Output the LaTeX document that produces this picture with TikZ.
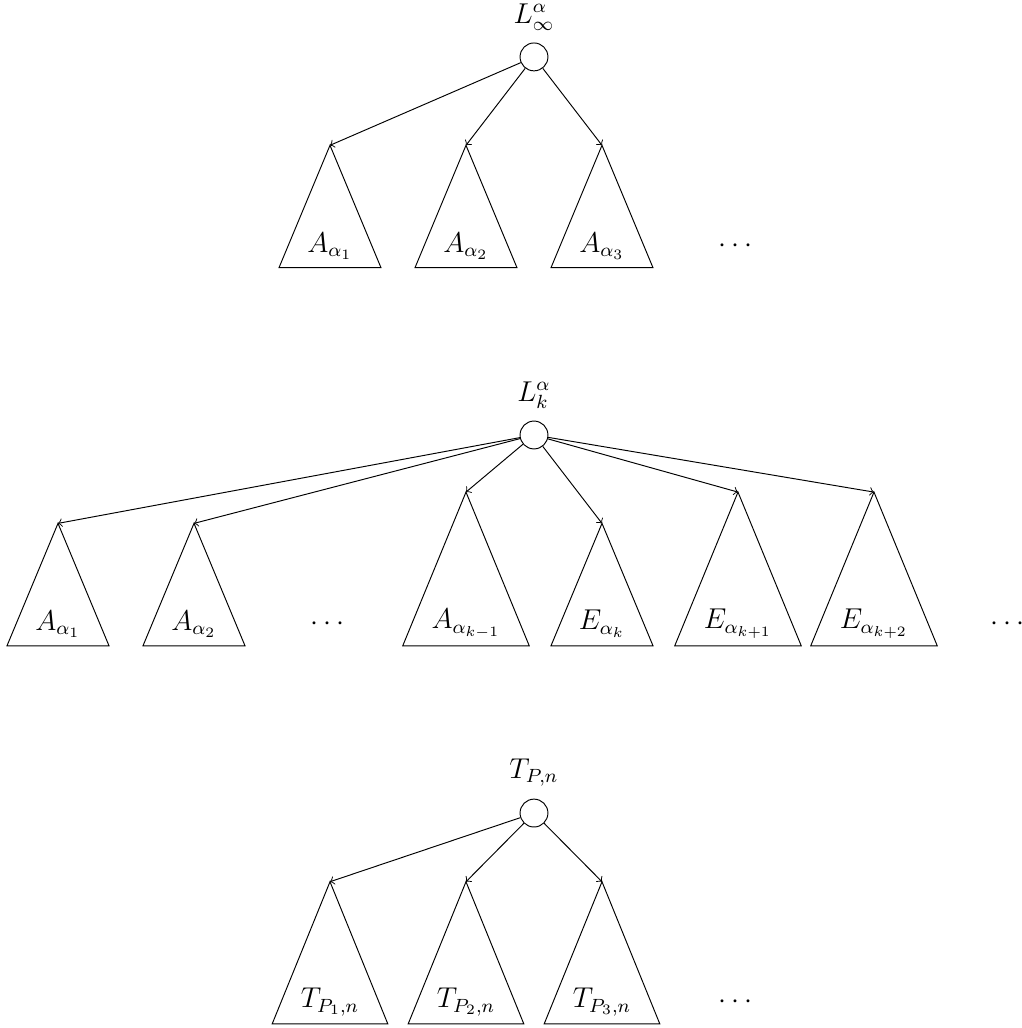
\documentclass[tikz,border=0pt]{standalone}
\usepackage{amsmath,amssymb}
\usepackage{tikz}
\usetikzlibrary{arrows,positioning}

\tikzset{
    root/.style={circle,draw,minimum size=0.41cm,inner sep=0pt},
    every node/.style={font=\large}
}

\begin{document}
\begin{tikzpicture}[>=to]
    \useasboundingbox (-0.853,6.397) rectangle (14.176,-8.721);

    % Tree of L^alpha_infinity
    \begin{scope}[shift={(0,5.56)}]
        \node[root] (r1) at (7,0) {};
        \node[above=1.5pt of r1] (l1) {$L^{\alpha}_{\infty}$};
        \foreach \x/\i/\t in {4/1/A_{\alpha_1},6/2/A_{\alpha_2},8/3/A_{\alpha_3}} {
            \coordinate (t1\i) at (\x,-1.3);
            \draw (t1\i) -- (\x-0.75,-3.1) -- (\x+0.75,-3.1) -- cycle;
            \node (n1\i) at (\x,-2.78) {$\t$};
            \draw[->] (r1) -- (t1\i);
        }
        \node (d1) at (10,-2.78) {$\cdots$};
    \end{scope}

    % Tree of L^alpha_k
    \begin{scope}
        \node[root] (r2) at (7,0) {};
        \node[above=1.5pt of r2] (l2) {$L^{\alpha}_{k}$};
        % small subtrees
        \foreach \x/\i/\t in {0/1/A_{\alpha_1},2/2/A_{\alpha_2},8/5/E_{\alpha_k}} {
            \coordinate (t2\i) at (\x,-1.3);
            \draw (t2\i) -- (\x-0.75,-3.1) -- (\x+0.75,-3.1) -- cycle;
            \node (n2\i) at (\x,-2.78) {$\t$};
            \draw[->] (r2) -- (t2\i);
        }
        % large subtrees
        \foreach \x/\i/\t in {6/4/A_{\alpha_{k-1}},10/6/E_{\alpha_{k+1}},12/7/E_{\alpha_{k+2}}} {
            \coordinate (t2\i) at (\x,-0.84);
            \draw (t2\i) -- (\x-0.93,-3.1) -- (\x+0.93,-3.1) -- cycle;
            \node (n2\i) at (\x,-2.78) {$\t$};
            \draw[->] (r2) -- (t2\i);
        }
        \node (d21) at (4,-2.78) {$\cdots$};
        \node (d22) at (14,-2.78) {$\cdots$};
    \end{scope}

    % Tree of T_{P,n}
    \begin{scope}[shift={(0,-5.56)}]
        \node[root] (r3) at (7,0) {};
        \node[above=1.5pt of r3] (l3) {$T_{P,n}$};
        \foreach \x/\i in {4/1,6/2,8/3} {
            \coordinate (t3\i) at (\x,-1.01);
            \draw (t3\i) -- (\x-0.85,-3.1) -- (\x+0.85,-3.1) -- cycle;
            \node (n3\i) at (\x,-2.78) {$T_{P_{\i},n}$};
            \draw[->] (r3) -- (t3\i);
        }
        \node (d3) at (10,-2.78) {$\cdots$};
    \end{scope}
\end{tikzpicture}
\end{document}
